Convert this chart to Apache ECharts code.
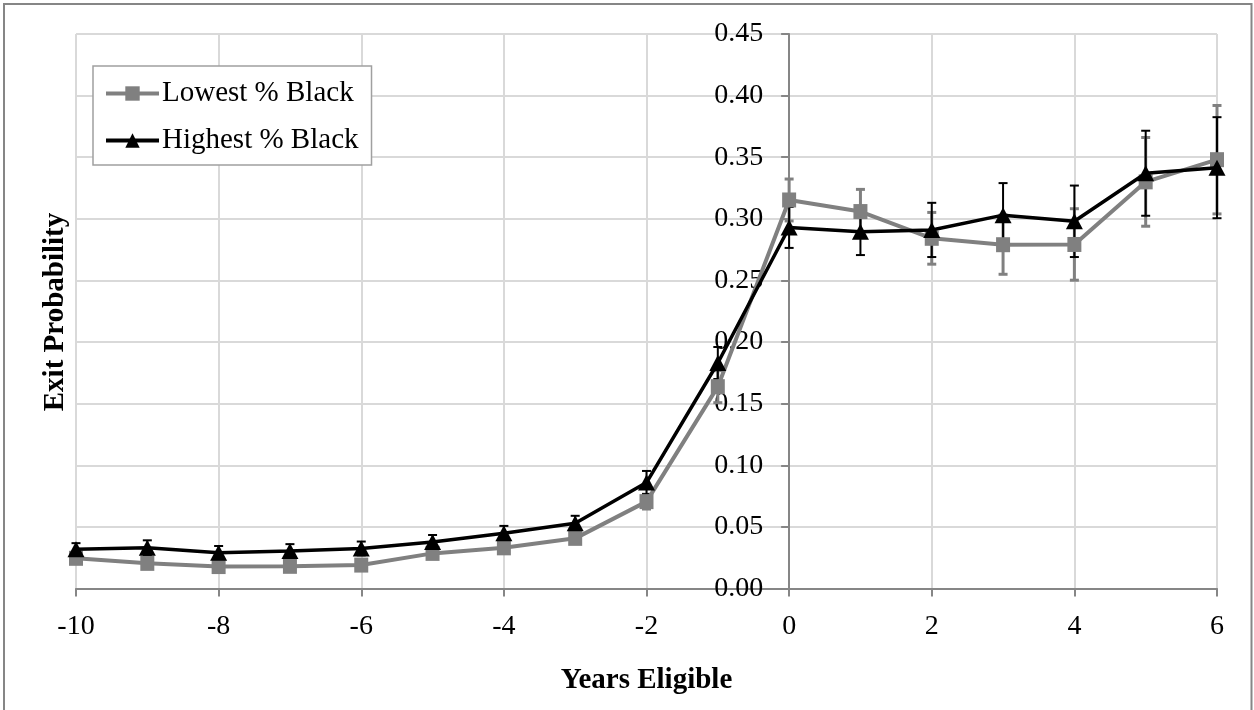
<!DOCTYPE html>
<html>
<head>
<meta charset="utf-8">
<script src="https://cdn.jsdelivr.net/npm/echarts@6/dist/echarts.min.js"></script>
<style>
html,body{margin:0;padding:0;background:#fff;}
#chart{width:1254px;height:710px;}
</style>
</head>
<body>
<div id="chart"></div>
<script>
var years = [-10,-9,-8,-7,-6,-5,-4,-3,-2,-1,0,1,2,3,4,5,6];
var lowest = [0.0245,0.0204,0.0178,0.0180,0.0190,0.0285,0.0330,0.0407,0.0705,0.1638,0.3153,0.3059,0.2842,0.2790,0.2792,0.3300,0.3480];
var lowestErr = [0.004,0.004,0.004,0.004,0.004,0.004,0.004,0.004,0.006,0.013,0.017,0.018,0.021,0.024,0.029,0.036,0.044];
var highest = [0.0318,0.0331,0.0290,0.0304,0.0325,0.0378,0.0448,0.0529,0.0860,0.1830,0.2930,0.2896,0.2910,0.3030,0.2980,0.3370,0.3415];
var highestErr = [0.005,0.006,0.0055,0.0056,0.0056,0.0056,0.006,0.0061,0.0094,0.013,0.0166,0.019,0.022,0.026,0.029,0.0345,0.041];
var seriesNames = ['Lowest % Black','Highest % Black'];

var FONT = 'Liberation Serif';
var GRID_LEFT = 76, GRID_RIGHT = 37, PLOT_W = 1254 - GRID_LEFT - GRID_RIGHT;
var X_MIN = -10, X_MAX = 6;
var yAxisOffset = -PLOT_W * (0 - X_MIN) / (X_MAX - X_MIN);

var chart = echarts.init(document.getElementById('chart'));

function pairs(vals){ return years.map(function(x,i){ return [x, vals[i]]; }); }
function errData(vals, errs){ return years.map(function(x,i){ return [x, vals[i]-errs[i], vals[i]+errs[i]]; }); }
function errRender(color, width, capHalf){
  return function(params, api){
    var x = api.value(0), lo = api.value(1), hi = api.value(2);
    var pt = api.coord([x, hi]), pb = api.coord([x, lo]);
    var st = {stroke: color, lineWidth: width};
    return {type:'group', children:[
      {type:'line', shape:{x1:pt[0], y1:pt[1], x2:pb[0], y2:pb[1]}, style:st},
      {type:'line', shape:{x1:pt[0]-capHalf, y1:pt[1], x2:pt[0]+capHalf, y2:pt[1]}, style:st},
      {type:'line', shape:{x1:pb[0]-capHalf, y1:pb[1], x2:pb[0]+capHalf, y2:pb[1]}, style:st}
    ]};
  };
}

var option = {
  animation: false,
  backgroundColor: '#ffffff',
  textStyle: {fontFamily: FONT},
  grid: {left: GRID_LEFT, right: GRID_RIGHT, top: 34, bottom: 121.5, containLabel: false},
  legend: {
    data: [
      {name: seriesNames[0], lineStyle: {width: 4}},
      {name: seriesNames[1], lineStyle: {width: 4}}
    ],
    orient: 'vertical',
    left: 93, top: 66,
    padding: [13, 13, 10, 11],
    itemWidth: 53, itemHeight: 18,
    itemGap: 18,
    backgroundColor: '#ffffff',
    borderColor: '#a0a0a0', borderWidth: 1.5,
    textStyle: {fontFamily: FONT, fontSize: 29, color: '#000', padding: [0,0,0,-2]}
  },
  xAxis: {
    type: 'value', min: X_MIN, max: X_MAX, interval: 2,
    name: 'Years Eligible', nameLocation: 'middle', nameGap: 78,
    nameTextStyle: {fontFamily: FONT, fontSize: 29, fontWeight: 'bold', color: '#000'},
    axisLine: {onZero: true, lineStyle: {color: '#868686', width: 2}},
    axisTick: {show: true, length: 8, lineStyle: {color: '#868686', width: 2}},
    axisLabel: {fontFamily: FONT, fontSize: 28, color: '#000', margin: 24},
    splitLine: {show: true, lineStyle: {color: '#d9d9d9', width: 2}}
  },
  yAxis: {
    type: 'value', min: 0, max: 0.45, interval: 0.05,
    position: 'left', offset: yAxisOffset,
    axisLine: {show: true, onZero: false, lineStyle: {color: '#868686', width: 2}},
    axisTick: {show: true, length: 8, lineStyle: {color: '#868686', width: 2}},
    axisLabel: {fontFamily: FONT, fontSize: 28, color: '#000', margin: 26,
      formatter: function(v){ return v.toFixed(2); }},
    splitLine: {show: true, lineStyle: {color: '#d9d9d9', width: 2}}
  },
  graphic: [
    {type:'rect', silent:true, z:-1, shape:{x:4, y:4, width:1247.5, height:730},
     style:{fill:'none', stroke:'#868686', lineWidth:2}},
    {type:'text', silent:true, x: 56, y: 312, rotation: Math.PI/2,
     style:{text:'Exit Probability', fontFamily: FONT, fontSize: 29, fontWeight:'bold', fill:'#000',
            align:'center', verticalAlign:'middle'}}
  ],
  series: [
    {type:'custom', name:'errLow', data: errData(lowest, lowestErr), encode:{x:0, y:[1,2]},
     renderItem: errRender('#808080', 3, 4.5), z: 2, silent: true},
    {type:'custom', name:'errHigh', data: errData(highest, highestErr), encode:{x:0, y:[1,2]},
     renderItem: errRender('#000000', 2, 4.5), z: 2, silent: true},
    {type:'line', name: seriesNames[0], data: pairs(lowest), z: 3,
     symbol:'rect', symbolSize: [14, 15],
     lineStyle:{color:'#808080', width:4},
     itemStyle:{color:'#808080'}},
    {type:'line', name: seriesNames[1], data: pairs(highest), z: 4,
     symbol:'triangle', symbolSize: [17, 16],
     lineStyle:{color:'#000000', width:3.5},
     itemStyle:{color:'#000000'}}
  ]
};
chart.setOption(option);
</script>
</body>
</html>
